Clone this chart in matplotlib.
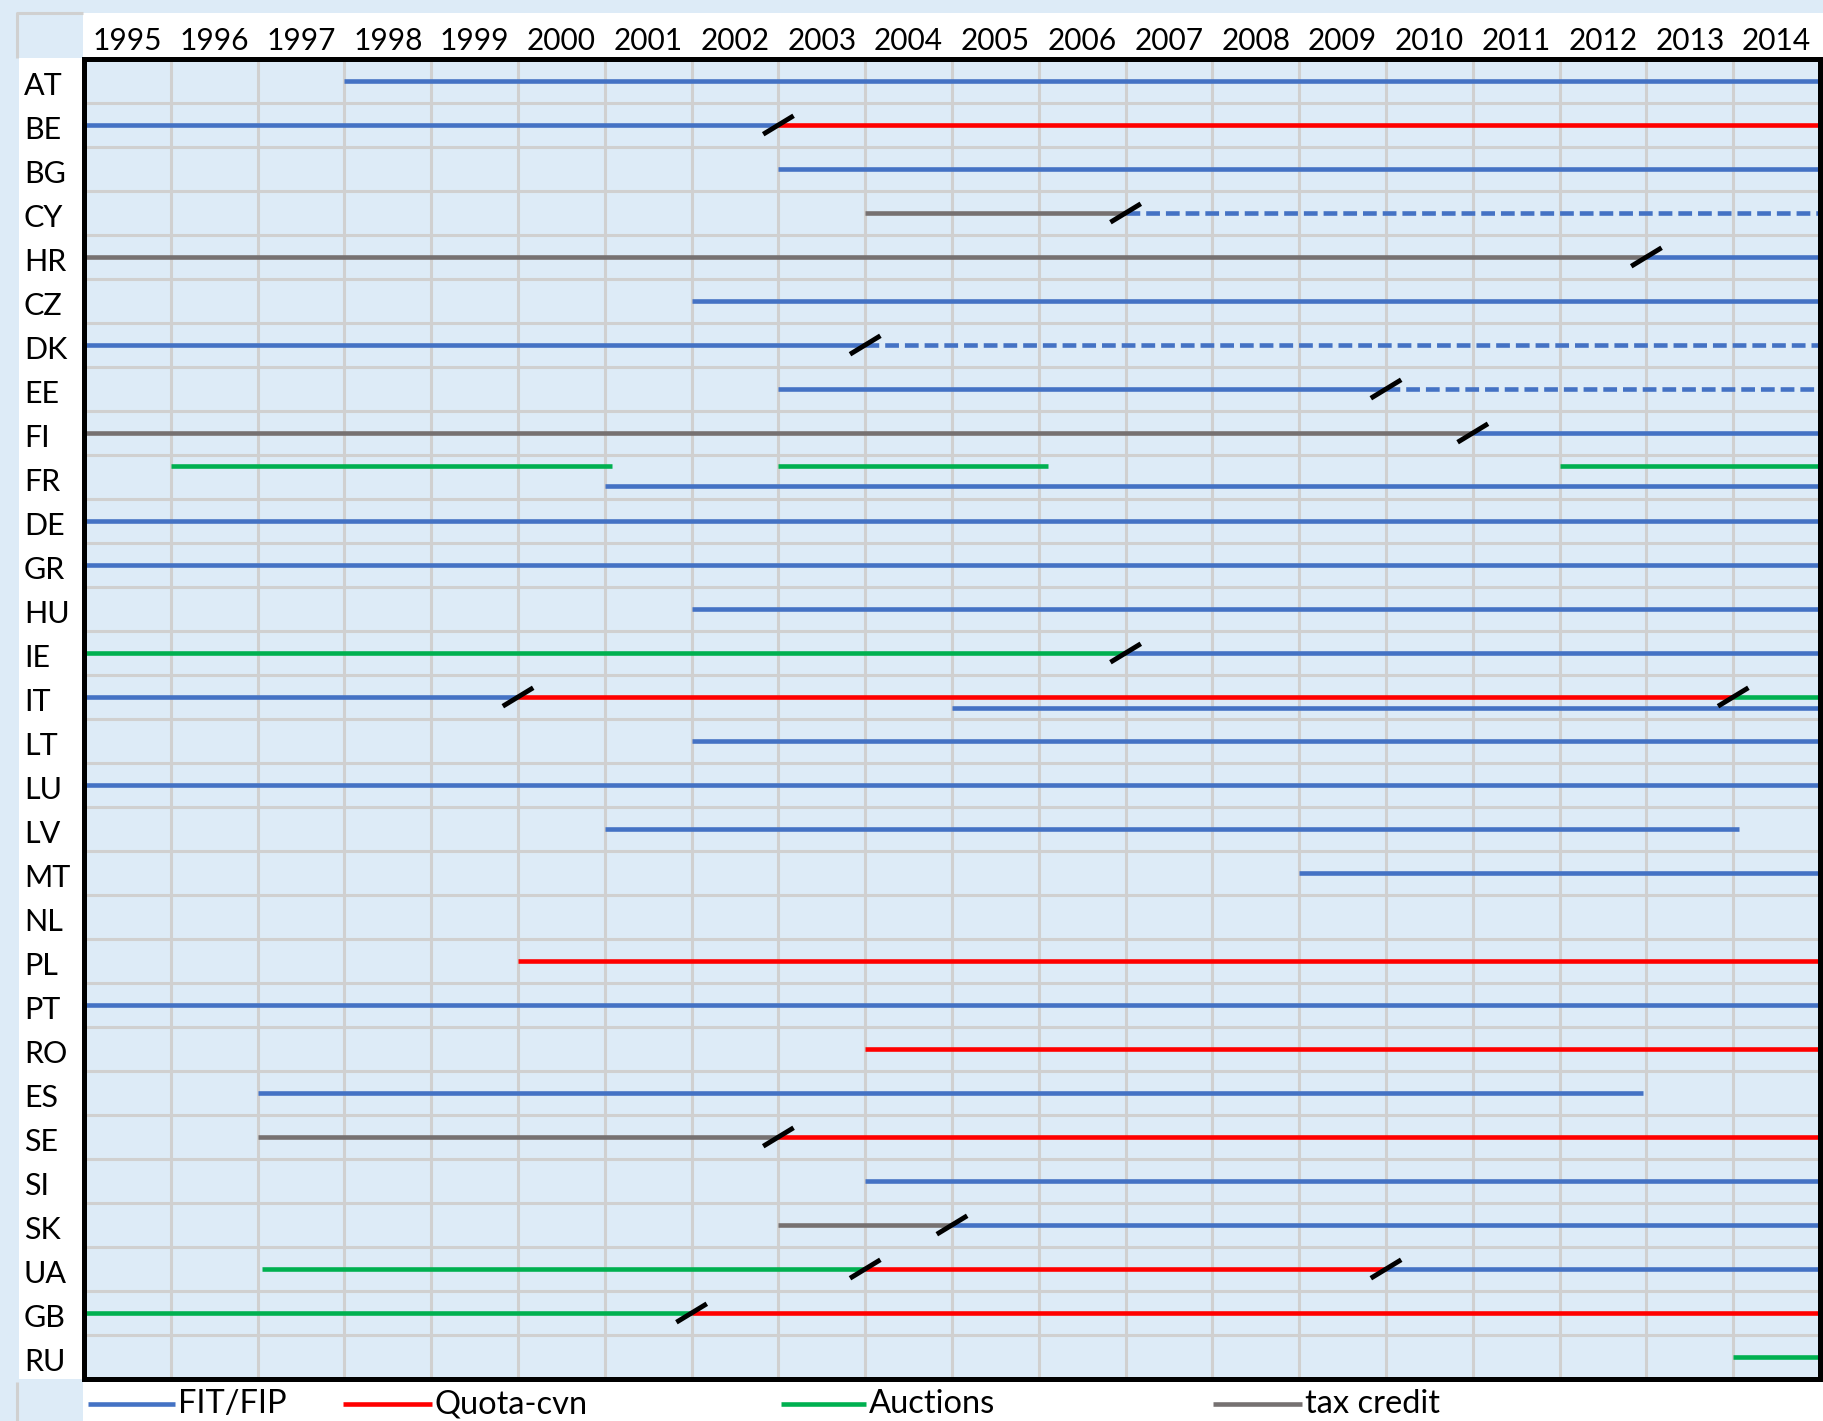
import numpy as np
import matplotlib.pyplot as plt
import matplotlib.transforms as mtransforms
from matplotlib.lines import Line2D
from matplotlib.patches import Rectangle

plt.rcParams['font.family'] = ['Lato', 'DejaVu Sans']

W, H = 1823, 1421

countries = ['AT', 'BE', 'BG', 'CY', 'HR', 'CZ', 'DK', 'EE', 'FI', 'FR',
             'DE', 'GR', 'HU', 'IE', 'IT', 'LT', 'LU', 'LV', 'MT', 'NL',
             'PL', 'PT', 'RO', 'ES', 'SE', 'SI', 'SK', 'UA', 'GB', 'RU']
years = list(range(1995, 2015))

# (country, start, end) per support scheme
fit_solid = [('AT', 1998, 2015), ('BE', 1995, 2003), ('BG', 2003, 2015),
             ('HR', 2013, 2015), ('CZ', 2002, 2015), ('DK', 1995, 2004),
             ('EE', 2003, 2010), ('FI', 2011, 2015), ('FR', 2001, 2015),
             ('DE', 1995, 2015), ('GR', 1995, 2015), ('HU', 2002, 2015),
             ('IE', 2007, 2015), ('IT', 1995, 2000), ('IT', 2005, 2015),
             ('LT', 2002, 2015), ('LU', 1995, 2015), ('LV', 2001, 2014.07),
             ('MT', 2009, 2015), ('PT', 1995, 2015), ('ES', 1997, 2012.96),
             ('SI', 2004, 2015), ('SK', 2005, 2015), ('UA', 2010, 2015)]
fit_dashed = [('CY', 2007, 2015), ('DK', 2004, 2015), ('EE', 2010, 2015)]
quota = [('BE', 2003, 2015), ('IT', 2000, 2014), ('PL', 2000, 2015),
         ('RO', 2004, 2015), ('SE', 2003, 2015), ('UA', 2004, 2010),
         ('GB', 2002, 2015)]
auctions = [('FR', 1996, 2001.08), ('FR', 2003, 2006.11), ('FR', 2012, 2015),
            ('IE', 1995, 2007), ('IT', 2014, 2015), ('UA', 1997.05, 2004),
            ('GB', 1995, 2002), ('RU', 2014, 2015)]
tax_credit = [('CY', 2004, 2007), ('HR', 1995, 2013), ('FI', 1995, 2011),
              ('SE', 1997, 2003), ('SK', 2003, 2005)]

# scheme changes marked with a slash
breaks = [('BE', 2003), ('CY', 2007), ('HR', 2013), ('DK', 2004), ('EE', 2010),
          ('FI', 2011), ('IE', 2007), ('IT', 2000), ('IT', 2014), ('SE', 2003),
          ('SK', 2005), ('UA', 2004), ('UA', 2010), ('GB', 2002)]

# rows holding two lines: shift inside the row (row units)
lane = {('FR', 1996): -0.25, ('FR', 2003): -0.25, ('FR', 2012): -0.25,
        ('FR', 2001): 0.2, ('IT', 2005): 0.25}

BLUE, RED, GREEN, GREY = '#4472C4', '#FF0000', '#00B050', '#767171'
BG = '#DDEBF7'
GRID = '#D0D0D0'

fig = plt.figure(figsize=(W / 100, H / 100), dpi=100, facecolor=BG)


def px_rect(x0, y0, x1, y1, color):
    fig.add_artist(Rectangle((x0 / W, 1 - y1 / H), (x1 - x0) / W, (y1 - y0) / H,
                             transform=fig.transFigure, facecolor=color,
                             edgecolor='none', zorder=-5))


def px_line(xs, ys, color, lw):
    fig.add_artist(Line2D([x / W for x in xs], [1 - y / H for y in ys],
                          transform=fig.transFigure, color=color, lw=lw,
                          solid_capstyle='butt', zorder=-4))


# spreadsheet-like header row, label column and legend band
px_rect(83, 13, W, 59, 'white')
px_rect(19, 58, 84, 1379, 'white')
px_rect(83, 1379, W, H, 'white')
px_line([17, 17, 83], [58, 13, 13], GRID, 2.2)
px_line([17, 17], [1382, H], GRID, 2.2)

ax = fig.add_axes([84 / W, 1 - 1379 / H, 1736 / W, 1320 / H])
ax.set_facecolor(BG)
ax.set_xlim(1995, 2015)
ax.set_ylim(len(countries), 0)

row = {c: i + 0.5 for i, c in enumerate(countries)}

ax.set_xticks(np.array(years) + 0.5, labels=[str(y) for y in years])
ax.set_xticks(np.arange(1996, 2015), minor=True)
ax.set_yticks([row[c] for c in countries], labels=countries)
ax.set_yticks(np.arange(1, len(countries)), minor=True)
ax.xaxis.tick_top()
ax.tick_params(axis='x', which='both', length=0, pad=3.0, labelsize=21.5)
ax.tick_params(axis='y', which='both', length=0, pad=43.2, labelsize=22)
shift = mtransforms.ScaledTranslation(0, -2.5 / 100, fig.dpi_scale_trans)
for lbl in ax.get_yticklabels():
    lbl.set_ha('left')
    lbl.set_va('center_baseline')
    lbl.set_transform(lbl.get_transform() + shift)
ax.grid(which='minor', color=GRID, lw=2.2, zorder=0)
ax.grid(which='major', visible=False)
ax.set_axisbelow(True)
for sp in ax.spines.values():
    sp.set_linewidth(3.6)
    sp.set_color('black')
    sp.set_zorder(10)


def draw(segs, color, dashed=False):
    for c, s, e in segs:
        y = row[c] + lane.get((c, s), 0)
        kw = dict(dashes=(3.0, 1.3)) if dashed else {}
        ax.plot([s, e], [y, y], color=color, lw=3.3, solid_capstyle='butt',
                dash_capstyle='butt', zorder=3, clip_on=False, **kw)


draw(fit_solid, BLUE)
draw(fit_dashed, BLUE, dashed=True)
draw(quota, RED)
draw(auctions, GREEN)
draw(tax_credit, GREY)

for c, x in breaks:
    y = row[c]
    ax.plot([x - 0.175, x + 0.175], [y + 0.21, y - 0.21], color='black',
            lw=3.5, solid_capstyle='butt', zorder=5)

# legend along the bottom band
legend_items = [('FIT/FIP', BLUE, 88, 175), ('Quota-cvn', RED, 343, 432),
                ('Auctions', GREEN, 781, 866), ('tax credit', GREY, 1213, 1302)]
for name, color, x0, x1 in legend_items:
    fig.add_artist(Line2D([x0 / W, x1 / W], [1 - 1404 / H] * 2,
                          transform=fig.transFigure, color=color, lw=3.3,
                          solid_capstyle='butt'))
    fig.text((x1 + 3) / W, 1 - 1404 / H, name, fontsize=23.5,
             ha='left', va='center')

fig.savefig('out.png', dpi=100, facecolor=fig.get_facecolor())
